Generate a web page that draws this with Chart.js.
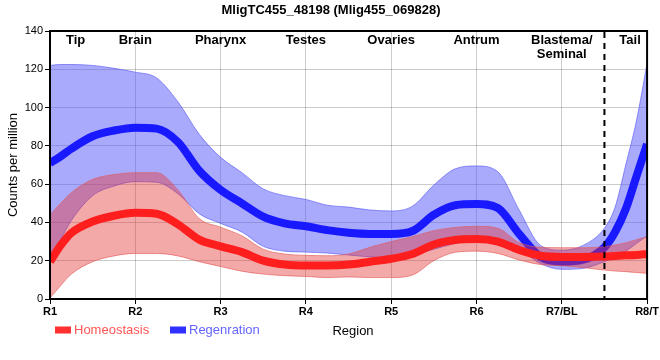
<!DOCTYPE html>
<html>
<head>
<meta charset="utf-8">
<script src="https://cdn.jsdelivr.net/npm/chart.js@4.4.1/dist/chart.umd.min.js"></script>
<style>
  html, body { margin: 0; padding: 0; background: #fff; }
  #c { display: block; }
</style>
</head>
<body>
<canvas id="c" width="660" height="360"></canvas>
<script>
// ---- data ----
const chartTitle = 'MligTC455_48198 (Mlig455_069828)';
const tickLabels = ['R1', 'R2', 'R3', 'R4', 'R5', 'R6', 'R7/BL', 'R8/T'];
const regionNames = ['Tip', 'Brain', 'Pharynx', 'Testes', 'Ovaries', 'Antrum', 'Blastema/\nSeminal', 'Tail'];
const regionCenters = [1.3, 2, 3, 4, 5, 6, 7, 7.8];
const seriesNames = ['Homeostasis', 'Regenration'];

const xPos = [1, 1.125, 1.25, 1.5, 1.75, 2, 2.25, 2.5, 2.75, 3, 3.25, 3.5, 3.75, 4, 4.25, 4.5, 4.75, 5, 5.25, 5.5, 5.75, 6, 6.25, 6.5, 6.75, 7, 7.25, 7.5, 7.625, 7.75, 7.875, 8];

const regMean  = [71, 74.5, 78.5, 85, 88, 89.5, 89, 82, 67, 57, 50, 43, 39.5, 38, 36, 34.6, 34, 34, 35.5, 44, 49, 49.6, 47.5, 34, 22, 19.5, 20.5, 27, 35, 47, 64, 81];
const regUpper = [122, 122.5, 122.5, 122, 120.5, 118.5, 115.5, 103, 86, 74, 66, 57.5, 54, 52, 49, 48, 46.5, 46, 48.5, 59.5, 68, 69.5, 66.5, 46.5, 28, 25.5, 28, 37, 48, 70, 93, 123];
const regLower = [20, 31, 41, 54, 59, 61.3, 61, 55, 44.5, 39.5, 35, 27.5, 25, 24.5, 24, 23, 22, 21.5, 23, 26, 29, 31, 30, 26, 18.5, 15.5, 16, 19.5, 22, 25, 29, 33];

const homMean  = [19.5, 28, 34.5, 40.5, 43.5, 45, 44.5, 39, 31, 27.5, 24.5, 20, 18, 17.5, 17.5, 18, 19.5, 21, 23.5, 28.5, 30.8, 31.3, 30, 25.6, 22.6, 22, 22, 22.2, 22.5, 22.8, 23, 23.5];
const homUpper = [44, 50, 55.5, 62.5, 65, 66, 66, 57, 42, 37.5, 33, 26, 23.5, 22.8, 22.6, 23.5, 27, 30, 32.6, 35.7, 37.4, 38, 37, 29.5, 27, 26.8, 26.8, 27.3, 28.2, 29.4, 31, 32.6];
const homLower = [0.5, 7, 13, 19.5, 22.5, 23.8, 23.8, 22.5, 19.5, 17, 14.5, 13, 12.2, 11.8, 11.2, 11.5, 11.2, 11.2, 12.5, 20, 24.4, 25, 23.8, 20.4, 18, 17.4, 16.4, 15.1, 14.6, 14.3, 13.8, 13.4];

const yTicks = [0, 20, 40, 60, 80, 100, 120, 140];

// ---- build ----
const FONT = '"Liberation Sans", Arial, sans-serif';
const pts = arr => arr.map((v, i) => ({ x: xPos[i], y: v }));

function lineDs(label, data, color, width, extra) {
  return Object.assign({
    label: label,
    data: pts(data),
    borderColor: color,
    borderWidth: width,
    pointRadius: 0,
    pointHoverRadius: 0,
    cubicInterpolationMode: 'monotone',
    fill: false
  }, extra || {});
}

const datasets = [
  // index 0 drawn on top
  lineDs(seriesNames[0], homMean, 'rgb(255,30,30)', 8),
  lineDs('homUpper', homUpper, 'rgba(225,90,90,0.6)', 1, { fill: 2, backgroundColor: 'rgba(228,50,50,0.42)' }),
  lineDs('homLower', homLower, 'rgba(225,90,90,0.6)', 1),
  lineDs(seriesNames[1], regMean, 'rgb(25,25,255)', 8),
  lineDs('regUpper', regUpper, 'rgba(90,90,245,0.65)', 1, { fill: 5, backgroundColor: 'rgba(85,85,250,0.5)' }),
  lineDs('regLower', regLower, 'rgba(90,90,245,0.65)', 1)
];

const extras = {
  id: 'extras',
  afterDatasetsDraw(chart) {
    const { ctx, chartArea: ca, scales } = chart;
    const xs = scales.x;
    ctx.save();
    // dashed separator
    const xd = xs.getPixelForValue(7.5);
    ctx.strokeStyle = '#000';
    ctx.lineWidth = 2;
    ctx.setLineDash([6, 5]);
    ctx.beginPath();
    ctx.moveTo(xd, ca.top + 1);
    ctx.lineTo(xd, ca.bottom);
    ctx.stroke();
    ctx.setLineDash([]);
    // frame
    ctx.lineWidth = 2;
    ctx.strokeRect(ca.left, ca.top, ca.right - ca.left, ca.bottom - ca.top);
    // region labels
    ctx.fillStyle = '#000';
    ctx.font = 'bold 13px ' + FONT;
    ctx.textAlign = 'center';
    ctx.textBaseline = 'middle';
    regionNames.forEach((name, i) => {
      name.split('\n').forEach((ln, j) => {
        ctx.fillText(ln, xs.getPixelForValue(regionCenters[i]), ca.top + 9 + j * 14);
      });
    });
    // title
    ctx.font = 'bold 13px ' + FONT;
    ctx.fillText(chartTitle, 331, 10);
    // legend
    const ly = 330;
    ctx.font = '13px ' + FONT;
    ctx.textAlign = 'left';
    ctx.fillStyle = 'rgb(255,48,48)';
    ctx.fillRect(55, ly - 3.5, 16, 7);
    ctx.fillStyle = 'rgb(255,85,85)';
    ctx.fillText(seriesNames[0], 74, ly);
    ctx.fillStyle = 'rgb(48,48,255)';
    ctx.fillRect(170, ly - 3.5, 16, 7);
    ctx.fillStyle = 'rgb(100,100,255)';
    ctx.fillText(seriesNames[1], 189, ly);
    // x axis title
    ctx.fillStyle = '#000';
    ctx.textAlign = 'center';
    ctx.fillText('Region', 353, 331);
    ctx.restore();
  }
};

new Chart(document.getElementById('c'), {
  type: 'line',
  data: { datasets: datasets },
  options: {
    responsive: false,
    animation: false,
    events: [],
    layout: { padding: { left: 0, right: 10, top: 31, bottom: 0 } },
    plugins: {
      legend: { display: false },
      title: { display: false },
      tooltip: { enabled: false },
      filler: { propagate: false }
    },
    scales: {
      x: {
        type: 'linear',
        min: 1,
        max: 8,
        afterFit: s => { s.height = 61; },
        afterBuildTicks: s => { s.ticks = tickLabels.map((_, i) => ({ value: i + 1 })); },
        ticks: {
          callback: v => tickLabels[Math.round(v) - 1],
          font: { family: FONT, size: 11, weight: 'bold' },
          color: '#000',
          padding: 1,
          maxRotation: 0,
          autoSkip: false
        },
        grid: { color: 'rgba(0,0,0,0.2)', lineWidth: 1, tickLength: 5, tickColor: '#000' },
        border: { color: '#000', width: 2 }
      },
      y: {
        min: 0,
        max: 140,
        afterFit: s => { s.width = 50; },
        afterBuildTicks: s => { s.ticks = yTicks.map(v => ({ value: v })); },
        ticks: {
          font: { family: FONT, size: 11 },
          color: '#000',
          padding: 2
        },
        grid: { color: 'rgba(0,0,0,0.2)', lineWidth: 1, tickLength: 5, tickColor: '#000' },
        border: { color: '#000', width: 2 },
        title: {
          display: true,
          text: 'Counts per million',
          font: { family: FONT, size: 13 },
          color: '#000',
          padding: { top: 6, bottom: 0 }
        }
      }
    }
  },
  plugins: [extras]
});
</script>
</body>
</html>
